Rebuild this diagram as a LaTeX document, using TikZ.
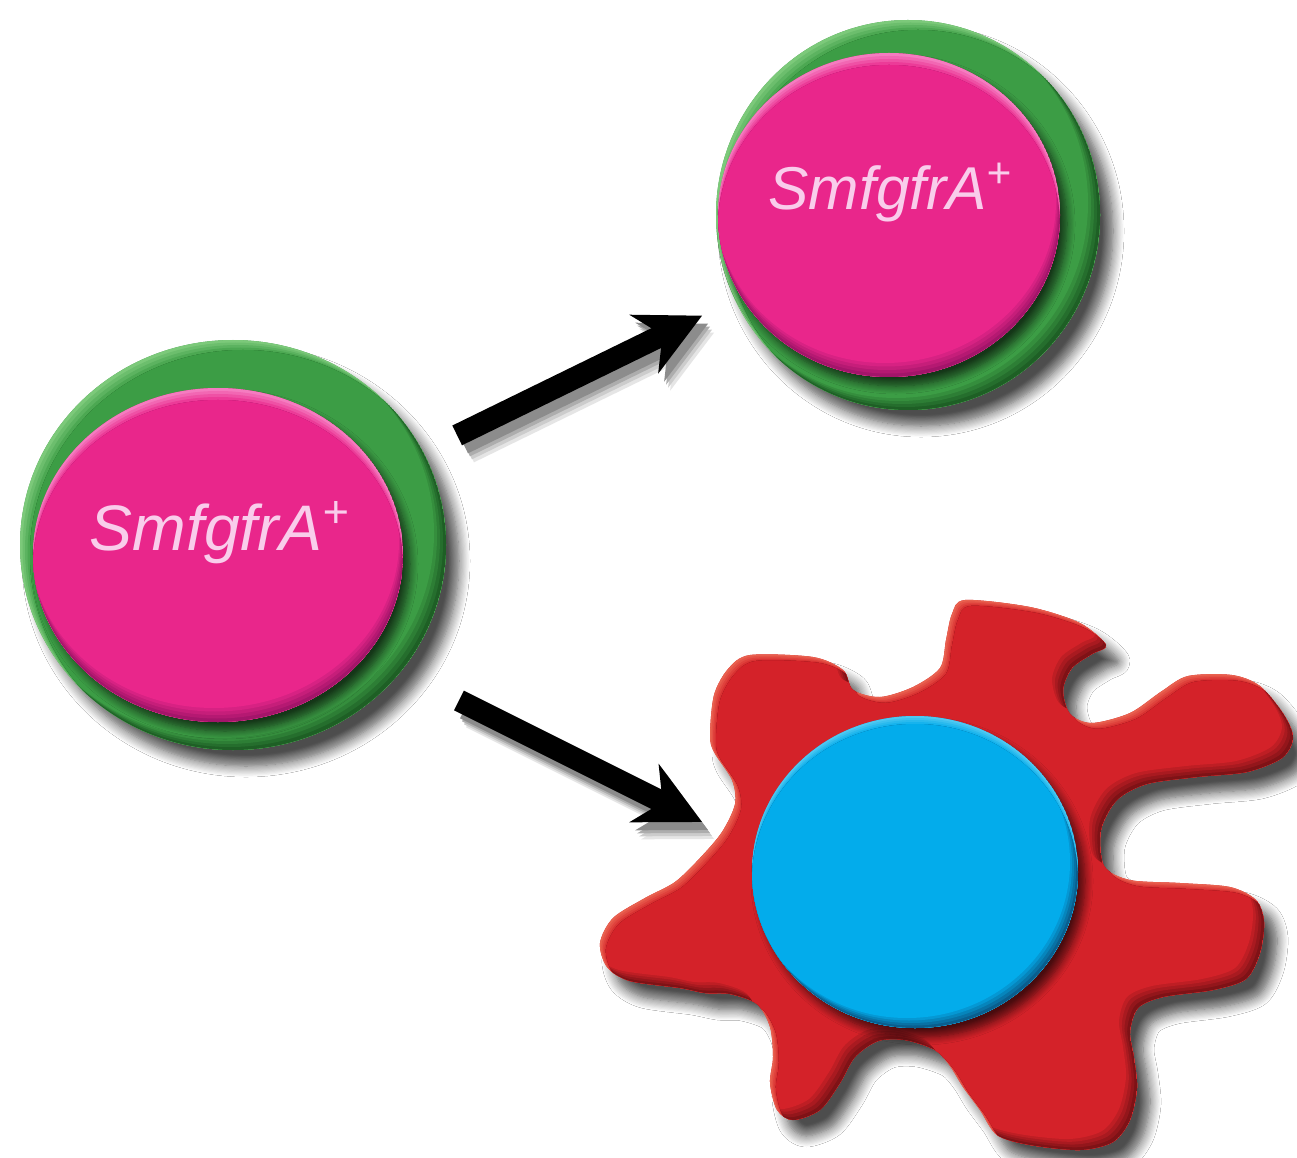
\documentclass[tikz,border=0pt]{standalone}
\usepackage{fontspec}
\setmainfont{Liberation Sans}
\usetikzlibrary{shapes.geometric, arrows.meta, shadows.blur}

\definecolor{ringgreen}{HTML}{3C9D45}
\definecolor{ringlight}{HTML}{7CC97A}
\definecolor{ringdark}{HTML}{1E5F25}
\definecolor{cellpink}{HTML}{E9268B}
\definecolor{pinklight}{HTML}{F57CC0}
\definecolor{pinkdark}{HTML}{A3156A}
\definecolor{labelpink}{HTML}{F9CDEB}
\definecolor{blobred}{HTML}{D42229}
\definecolor{blobredlight}{HTML}{E9614F}
\definecolor{blobreddark}{HTML}{7E1216}
\definecolor{nucblue}{HTML}{03ACEB}
\definecolor{nucbluelight}{HTML}{4FC8F2}
\definecolor{nucbluedark}{HTML}{0A5E8E}

% Bevelled fill: #1 path, #2 base colour, #3 rim light, #4 rim dark,
% (#5,#6) offset of the lit rim, (#7,#8) offset of the shaded rim
\newcommand\bevelfill[8]{%
  \begin{scope}
    \clip #1;
    \fill[#3] #1;
    \foreach \k in {1,2,3,4}{%
      \pgfmathtruncatemacro\mixpct{25*\k}%
      \fill[#2!\mixpct!#3, shift={({#5*\k/4},{#6*\k/4})}] #1;
    }
  \end{scope}
  \begin{scope}
    \clip #1;
    \clip[shift={(#5,#6)}] #1;
    \fill[#4] #1;
    \foreach \k in {1,2,3,4}{%
      \pgfmathtruncatemacro\mixpct{25*\k}%
      \fill[#2!\mixpct!#4, shift={({#7*\k/4},{#8*\k/4})}] #1;
    }
  \end{scope}
}

% outline of the spreading cell
\def\blobpath{plot[smooth cycle, tension=0.5] coordinates {
 (965,600) (1030,607) (1080,623) (1106,645) (1092,654) (1072,668) (1063,690)
 (1070,714) (1092,723) (1130,713) (1162,691) (1188,676) (1232,675) (1260,686)
 (1284,715) (1293,738) (1282,758) (1247,772) (1197,777) (1147,784) (1117,800)
 (1101,830) (1104,866) (1130,880) (1180,883) (1230,887) (1256,900) (1264,922)
 (1260,953) (1246,979) (1213,990) (1163,997) (1138,1008) (1130,1032) (1134,1058)
 (1137,1088) (1130,1120) (1113,1142) (1080,1150) (1030,1145) (997,1135) (980,1110)
 (963,1087) (950,1066) (935,1050) (905,1040) (878,1041) (855,1057) (840,1083)
 (820,1110) (793,1120) (777,1110) (770,1083) (773,1057) (770,1027) (757,1004)
 (730,994) (705,993) (680,988) (630,981) (607,967) (600,943) (613,918) (645,898)
 (675,882) (700,858) (722,832) (735,804) (732,780) (714,752) (710,735) (714,695)
 (728,669) (750,655) (813,657) (843,670) (853,690) (880,697) (913,687) (940,668)
 (946,640) (952,614)}}

\newcommand\arrowpair[1]{%
  \draw[bigarrow, #1, shorten <=0.38cm, shorten >=0.365cm] (cellL) -- (cellT);
  \draw[bigarrow, #1, shorten <=0.65cm] (cellL.-37.5) -- (blobdock);
}

\begin{document}
\begin{tikzpicture}[x=0.01cm, y=-0.01cm,
  cellshape/.style={ellipse, inner sep=0pt, outer sep=0pt},
  celltext/.style={text=labelpink, inner sep=0pt, anchor=base},
  bigarrow/.style={line width=0.22cm,
    -{Stealth[length=0.64cm, width=0.64cm, inset=0.2cm]}},
  softshadow/.style={blur shadow={shadow xshift=1.3mm, shadow yshift=-1.6mm,
    shadow blur radius=1.1mm, shadow blur steps=10, shadow opacity=70}},
  discshadow/.style={blur shadow={shadow xshift=0.7mm, shadow yshift=-0.9mm,
    shadow blur radius=0.8mm, shadow blur steps=8, shadow opacity=65}}]

\useasboundingbox (0,0) rectangle (1297,1158);
\fill[white] (0,0) rectangle (1297,1158);

% ---- left cell ----
\node[cellshape, minimum width=4.26cm, minimum height=4.10cm] (cellL) at (233,545) {};
\fill[ringgreen, softshadow] (233,545) ellipse [x radius=213, y radius=205];
\bevelfill{(233,545) ellipse [x radius=213, y radius=205]}{ringgreen}{ringlight}{ringdark}{10}{10}{-12}{-12}
\fill[cellpink, discshadow] (218,555) ellipse [x radius=185, y radius=167];
\bevelfill{(218,555) ellipse [x radius=185, y radius=167]}{cellpink}{pinklight}{pinkdark}{0}{12}{-4}{-14}
\node[celltext, font=\fontsize{18.3}{20}\selectfont\itshape] (labelL) at (220,550) {SmfgfrA\textsuperscript{+}};

% ---- upper right cell ----
\node[cellshape, minimum width=3.84cm, minimum height=3.90cm] (cellT) at (908,215) {};
\fill[ringgreen, softshadow] (908,215) ellipse [x radius=192, y radius=195];
\bevelfill{(908,215) ellipse [x radius=192, y radius=195]}{ringgreen}{ringlight}{ringdark}{10}{10}{-12}{-12}
\fill[cellpink, discshadow] (889,215) ellipse [x radius=171, y radius=162];
\bevelfill{(889,215) ellipse [x radius=171, y radius=162]}{cellpink}{pinklight}{pinkdark}{0}{12}{-4}{-14}
\node[celltext, font=\fontsize{17.2}{19}\selectfont\itshape] (labelT) at (891,210) {SmfgfrA\textsuperscript{+}};

% ---- spreading red cell with blue nucleus ----
\fill[blobred, softshadow] \blobpath;
\bevelfill{\blobpath}{blobred}{blobredlight}{blobreddark}{6}{6}{-11}{-11}
\node[cellshape, minimum width=3.26cm, minimum height=3.12cm] (nucleus) at (915,872) {};
\fill[nucblue, discshadow] (915,872) ellipse [x radius=163, y radius=156];
\bevelfill{(915,872) ellipse [x radius=163, y radius=156]}{nucblue}{nucbluelight}{nucbluedark}{0}{8}{-8}{-10}
\coordinate (blobdock) at (702,822);

% ---- arrows with soft shadows ----
\foreach \sx/\sy/\sh in {12/17/10, 10/14/20, 8/11/32, 6/8/45}{
  \begin{scope}[transform canvas={shift={(\sx,\sy)}}]
    \arrowpair{color=black!\sh}
  \end{scope}
}
\arrowpair{color=black}

\end{tikzpicture}
\end{document}
